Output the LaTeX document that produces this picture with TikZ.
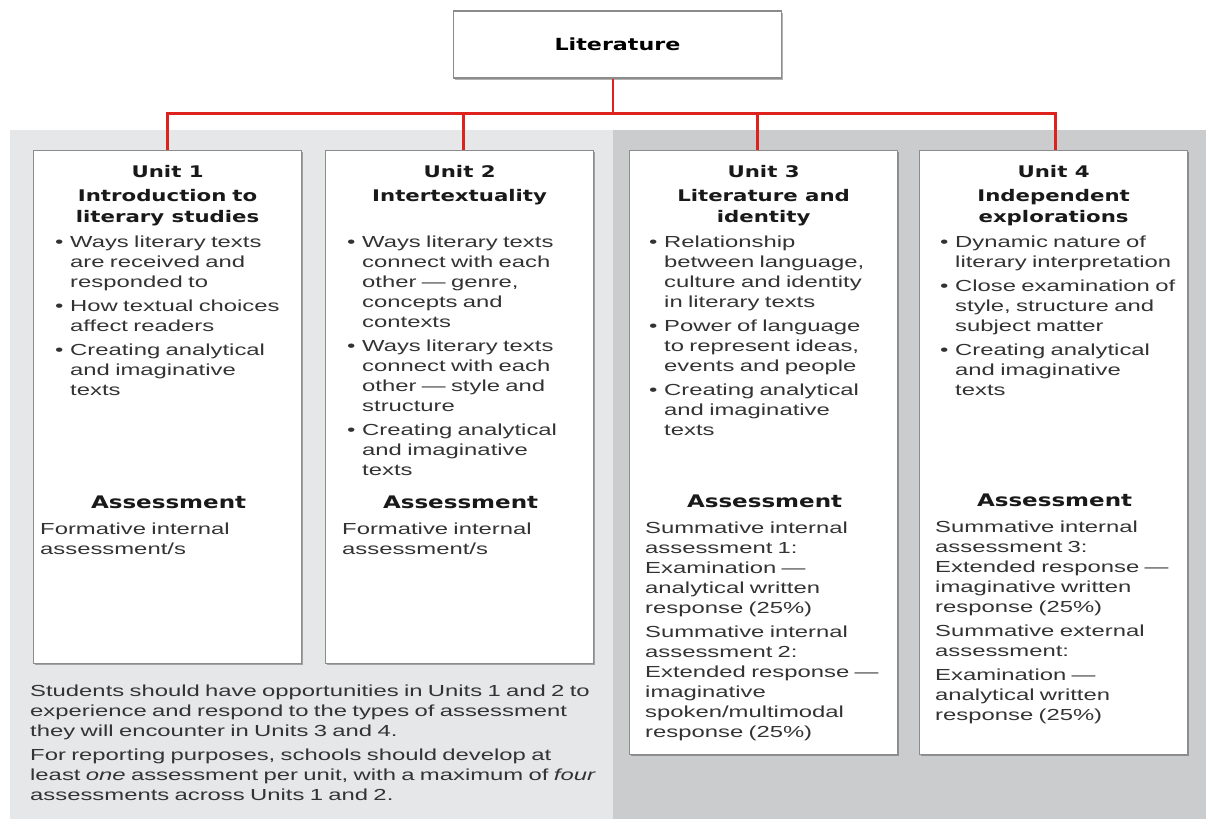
\documentclass[tikz,border=0pt]{standalone}
\usepackage{fontspec}
\setmainfont{Liberation Sans}[FakeStretch=1.49]
\newfontfamily\headfont{DejaVu Sans}[FakeStretch=1.33]
\usetikzlibrary{calc,shadows}

\definecolor{litred}{RGB}{222,35,30}
\definecolor{paleback}{RGB}{230,231,232}
\definecolor{darkback}{RGB}{203,204,206}
\definecolor{boxline}{RGB}{140,140,140}

% one bullet point, hanging indent
\newcommand\bul[1]{\hangindent=15pt\noindent\hbox to 15pt{\strut\textbullet\hfil}#1\par\vspace{4pt}}

\tikzset{
  unitbox/.style={draw=boxline, line width=1.2pt, fill=white, anchor=north west, inner sep=0pt,
    drop shadow={shadow xshift=1.5pt, shadow yshift=-1.5pt, fill=black, opacity=0.3}},
  headtext/.style={font=\headfont\bfseries\fontsize{16}{21}\selectfont, text=black!90,
    align=center, anchor=north, inner sep=0pt},
  assesshead/.style={font=\headfont\bfseries\fontsize{17.3}{21}\selectfont, text=black!90,
    anchor=base, inner sep=0pt},
  bodytext/.style={font=\fontsize{16}{20}\selectfont, text=black!80, align=left,
    text width=#1, anchor=north west, inner sep=0pt},
  bodytext/.default=250pt,
  link/.style={draw=litred, line width=2.8pt},
}

\begin{document}
\begin{tikzpicture}[x=1pt, y=-1pt]
  \useasboundingbox (0,0) rectangle (1206,819);
  % the two shaded panels
  \fill[paleback] (10,130) rectangle (613,819);
  \fill[darkback] (613,130) rectangle (1206,819);

  % boxes
  \node[unitbox, anchor=center, minimum width=328pt, minimum height=67pt, line width=1.6pt,
    font=\headfont\bfseries\fontsize{16.7}{20}\selectfont] (lit) at (617.5,44.5) {Literature};
  \node[unitbox, minimum width=268pt, minimum height=513pt] (u1) at (33,150) {};
  \node[unitbox, minimum width=268pt, minimum height=513pt] (u2) at (325,150) {};
  \node[unitbox, minimum width=268pt, minimum height=604pt] (u3) at (629,150) {};
  \node[unitbox, minimum width=268pt, minimum height=604pt] (u4) at (919,150) {};

  % red tree
  \coordinate (hub) at ($(lit.south)+(-4.5,35)$);
  \draw[link] ($(lit.south)+(-4.5,0)$) -- (hub);
  \draw[link] (hub) -| (u1.north);
  \draw[link] (hub) -| ($(u2.north)+(4,0)$);
  \draw[link] (hub) -| ($(u3.north)+(-6,0)$);
  \draw[link] (hub) -| ($(u4.north)+(2,0)$);

  % Unit 1
  \node[headtext] (u1h) at ($(u1.north)+(0,15)$) {Unit 1\\[3pt]Introduction\hspace{6pt}to\\literary studies};
  \node[bodytext] (u1b) at ($(u1.north west)+(22,83)$) {%
    \bul{Ways literary texts\newline are received and\newline responded to}%
    \bul{How textual choices\newline affect readers}%
    \bul{Creating analytical\newline and imaginative\newline texts}};
  \node[assesshead] (u1s) at ($(u1.north)+(1,358)$) {Assessment};
  \node[bodytext] (u1a) at ($(u1.north west)+(7,370)$) {\strut Formative internal\\assessment/s};

  % Unit 2
  \node[headtext] (u2h) at ($(u2.north)+(0,15)$) {Unit 2\\[3pt]Intertextuality};
  \node[bodytext] (u2b) at ($(u2.north west)+(22,83)$) {%
    \bul{Ways literary texts\newline connect with each\newline other --- genre,\newline concepts and\newline contexts}%
    \bul{Ways literary texts\newline connect with each\newline other --- style and\newline structure}%
    \bul{Creating analytical\newline and imaginative\newline texts}};
  \node[assesshead] (u2s) at ($(u2.north)+(1,358)$) {Assessment};
  \node[bodytext] (u2a) at ($(u2.north west)+(17,370)$) {\strut Formative internal\\assessment/s};

  % Unit 3
  \node[headtext] (u3h) at ($(u3.north)+(0,15)$) {Unit 3\\[3pt]Literature and\\identity};
  \node[bodytext] (u3b) at ($(u3.north west)+(20,83)$) {%
    \bul{Relationship\newline between language,\newline culture and identity\newline in literary texts}%
    \bul{Power of language\newline to represent ideas,\newline events and people}%
    \bul{Creating analytical\newline and imaginative\newline texts}};
  \node[assesshead] (u3s) at ($(u3.north)+(1,357)$) {Assessment};
  \node[bodytext] (u3a) at ($(u3.north west)+(16,369)$) {\strut Summative internal\\assessment 1:\\Examination ---\\analytical written\\response (25\%)\par\vspace{4pt}%
    Summative internal\\assessment 2:\\Extended response ---\\imaginative\\spoken/multimodal\\response (25\%)};

  % Unit 4
  \node[headtext] (u4h) at ($(u4.north)+(0,15)$) {Unit 4\\[3pt]Independent\\explorations};
  \node[bodytext] (u4b) at ($(u4.north west)+(21,83)$) {%
    \bul{Dynamic nature of\newline literary interpretation}%
    \bul{Close examination of\newline style, structure and\newline subject matter}%
    \bul{Creating analytical\newline and imaginative\newline texts}};
  \node[assesshead] (u4s) at ($(u4.north)+(1,356)$) {Assessment};
  \node[bodytext] (u4a) at ($(u4.north west)+(16,368)$) {\strut Summative internal\\assessment 3:\\Extended response ---\\imaginative written\\response (25\%)\par\vspace{4pt}%
    Summative external\\assessment:\par\vspace{4pt}%
    Examination ---\\analytical written\\response (25\%)};

  % note under Units 1 and 2
  \node[bodytext=600pt] (note) at (30,682) {\strut Students should have opportunities in Units 1 and 2 to\\experience and respond to the types of assessment\\they will encounter in Units 3 and 4.\par\vspace{4pt}%
    For reporting purposes, schools should develop at\\least \emph{one} assessment per unit, with a maximum of \emph{four}\\assessments across Units 1 and 2.};
\end{tikzpicture}
\end{document}
